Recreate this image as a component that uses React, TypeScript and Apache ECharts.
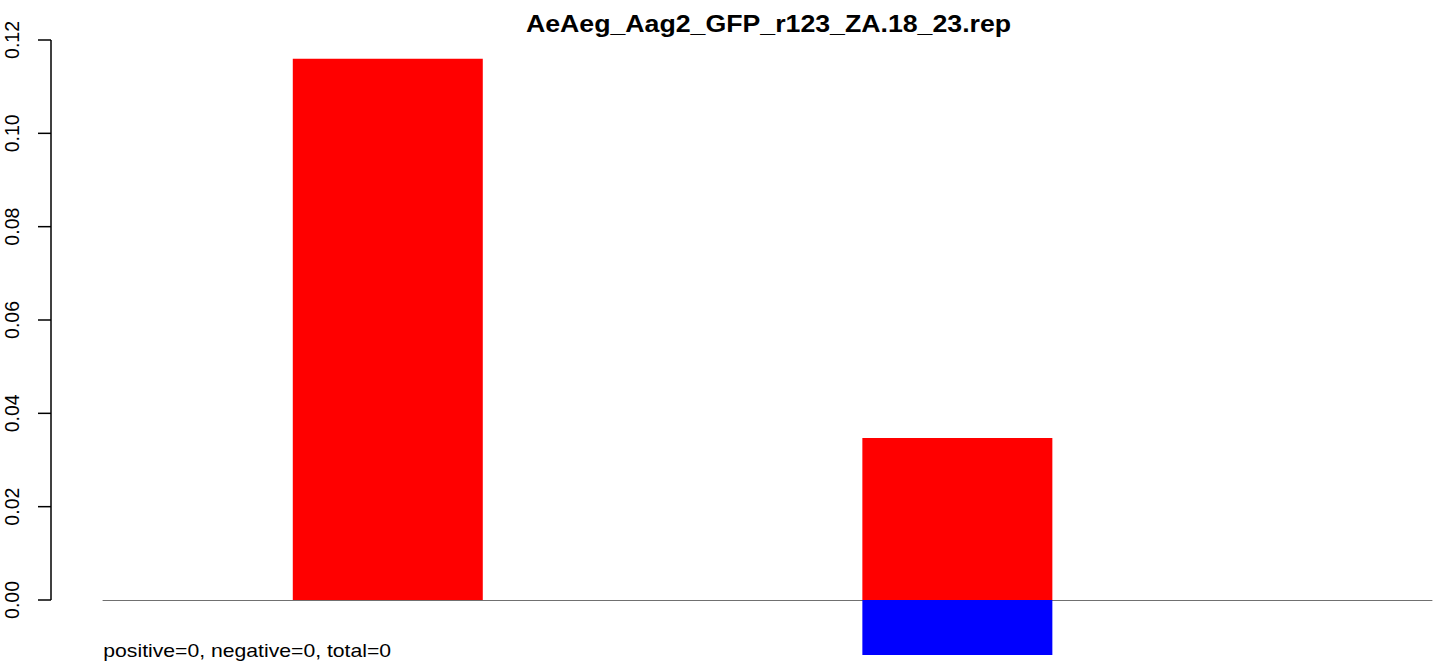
import React, { useEffect, useRef } from "react";
import * as echarts from "echarts";

const titleText = "AeAeg_Aag2_GFP_r123_ZA.18_23.rep";
const footnote = "positive=0, negative=0, total=0";
const barPositions = [1.5, 4.5];
const positiveValues = [0.116, 0.0347];
const negativeValues = [0, -0.0118];
const yTicks = [0, 0.02, 0.04, 0.06, 0.08, 0.1, 0.12];

const FONT = "'Liberation Sans', Arial, Helvetica, sans-serif";

export default function App() {
  const ref = useRef<HTMLDivElement>(null);
  useEffect(() => {
    if (!ref.current) return;
    const chart = echarts.init(ref.current, undefined, { renderer: "svg" });
    const option: any = {
      animation: false,
      backgroundColor: "#ffffff",
      grid: { left: 103, right: 7, top: 40, bottom: 8 },
      xAxis: {
        type: "value",
        min: 0,
        max: 7,
        axisLine: { show: true, onZero: true, lineStyle: { color: "#707070", width: 1 } },
        axisTick: { show: false },
        axisLabel: { show: false },
        splitLine: { show: false },
      },
      yAxis: {
        type: "value",
        min: -0.012,
        max: 0.12,
        offset: 52,
        axisLine: { show: false },
        splitLine: { show: false },
        axisTick: { show: false },
        axisLabel: {
          show: true,
          customValues: yTicks,
          rotate: 90,
          margin: 29,
          fontSize: 19.5,
          fontFamily: FONT,
          color: "#000",
          formatter: (v: number) => v.toFixed(2),
        },
      },
      series: [
        {
          type: "bar",
          stack: "s",
          barWidth: 190,
          itemStyle: { color: "#ff0000" },
          data: barPositions.map((x, i) => [x, positiveValues[i]]),
        },
        {
          type: "bar",
          stack: "s",
          barWidth: 190,
          itemStyle: { color: "#0000ff" },
          data: barPositions.map((x, i) => [x, negativeValues[i]]),
        },
      ],
    };
    chart.setOption(option);
    const axisX = 51;
    const tickY = yTicks.map((v) => chart.convertToPixel({ yAxisIndex: 0 }, v) as number);
    const top = Math.min(...tickY);
    const bottom = Math.max(...tickY);
    const graphics: any[] = [
      {
        type: "line",
        shape: { x1: axisX, y1: top, x2: axisX, y2: bottom },
        style: { stroke: "#000", lineWidth: 1.5 },
      },
      ...tickY.map((y) => ({
        type: "line",
        shape: { x1: axisX - 13, y1: y, x2: axisX, y2: y },
        style: { stroke: "#000", lineWidth: 1.5 },
      })),
      {
        type: "text",
        x: 768.5,
        y: 23.3,
        scaleX: 1.113,
        style: {
          text: titleText,
          fontSize: 24,
          fontWeight: "bold",
          fontFamily: FONT,
          fill: "#000",
          textAlign: "center",
          textVerticalAlign: "middle",
        },
      },
      {
        type: "text",
        x: 103.3,
        y: 650.5,
        scaleX: 1.145,
        style: {
          text: footnote,
          fontSize: 18.5,
          fontFamily: FONT,
          fill: "#000",
          textAlign: "left",
          textVerticalAlign: "middle",
        },
      },
    ];
    chart.setOption({ graphic: graphics });
    return () => chart.dispose();
  }, []);
  return <div ref={ref} style={{ width: 1439, height: 664, position: "absolute", left: 0, top: 0 }} />;
}
